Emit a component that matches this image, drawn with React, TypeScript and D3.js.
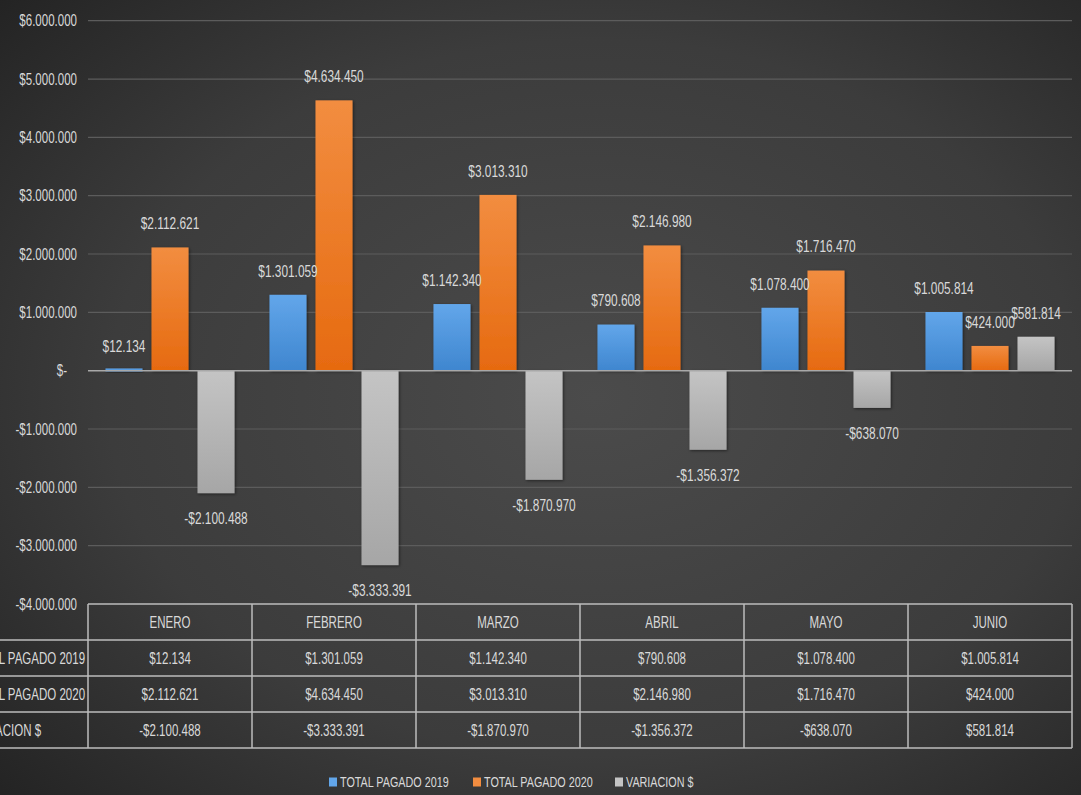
import * as d3 from 'd3';

const months = ['ENERO', 'FEBRERO', 'MARZO', 'ABRIL', 'MAYO', 'JUNIO'];
const seriesNames = ['TOTAL PAGADO 2019', 'TOTAL PAGADO 2020', 'VARIACION $'];
const pagado2019 = [12134, 1301059, 1142340, 790608, 1078400, 1005814];
const pagado2020 = [2112621, 4634450, 3013310, 2146980, 1716470, 424000];
const variacion = [-2100488, -3333391, -1870970, -1356372, -638070, 581814];
const yTicks = [6e6, 5e6, 4e6, 3e6, 2e6, 1e6, 0, -1e6, -2e6, -3e6, -4e6];

const W = 1081;
const H = 795;
const FONT = "'Liberation Sans', Arial, sans-serif";
const TEXT = '#d9d9d9';
const SX = 0.72; // the source uses a tall, narrow face

const colors = [
  ['#62a6ea', '#3f86cf'],
  ['#f28d40', '#e66a10'],
  ['#c4c4c4', '#a6a6a6'],
];

const money = (v: number) => {
  if (v === 0) return '$-';
  const s = d3.format(',')(Math.abs(v)).replace(/,/g, '.');
  return (v < 0 ? '-$' : '$') + s;
};

// narrow text helper
function T({
  x,
  y,
  anchor = 'middle',
  size = 16,
  children,
}: {
  x: number;
  y: number;
  anchor?: string;
  size?: number;
  children: any;
}) {
  return (
    <text
      transform={`translate(${x},${y}) scale(${SX},1)`}
      dy="0.35em"
      textAnchor={anchor}
      fill={TEXT}
      fontSize={size}
    >
      {children}
    </text>
  );
}

export default function App() {
  const values = [pagado2019, pagado2020, variacion];
  const left = 88;
  const right = 1072;
  const y = d3.scaleLinear().domain([-4e6, 6e6]).range([604, 20.7]);
  const x0 = d3.scaleBand<string>().domain(months).range([left, right]);
  const x1 = d3
    .scaleBand<string>()
    .domain(seriesNames)
    .range([0, x0.bandwidth()])
    .paddingInner(0.196)
    .paddingOuter(0.38);

  const tableTop = y(-4e6);
  const rowH = 36;
  const rows = [months.map((m) => m), ...values.map((vs) => vs.map(money))];

  return (
    <svg
      width={W}
      height={H}
      style={{ position: 'absolute', left: 0, top: 0, fontFamily: FONT }}
    >
      <defs>
        <radialGradient id="bg" cx="0.55" cy="0.5" r="0.75">
          <stop offset="0" stopColor="#4b4b4b" />
          <stop offset="0.6" stopColor="#3c3c3c" />
          <stop offset="1" stopColor="#232323" />
        </radialGradient>
        {colors.map((c, i) => (
          <linearGradient key={i} id={`g${i}`} x1="0" y1="0" x2="0" y2="1">
            <stop offset="0" stopColor={c[0]} />
            <stop offset="1" stopColor={c[1]} />
          </linearGradient>
        ))}
        <filter id="sh" x="-20%" y="-20%" width="140%" height="140%">
          <feDropShadow dx="1" dy="1" stdDeviation="1.5" floodColor="#000" floodOpacity="0.5" />
        </filter>
      </defs>
      <rect width={W} height={H} fill="url(#bg)" />

      {/* grid + y labels */}
      {yTicks.map((t) => (
        <g key={t}>
          {t !== 0 && t !== -4e6 && (
            <line x1={left} x2={right} y1={y(t)} y2={y(t)} stroke="#5c5c5c" strokeWidth={1.2} />
          )}
          <T x={t === 0 ? 67 : 77} y={y(t)} anchor="end">
            {money(t)}
          </T>
        </g>
      ))}

      {/* bars */}
      {values.map((vs, si) =>
        vs.map((v, mi) => {
          const bx = (x0(months[mi]) ?? 0) + (x1(seriesNames[si]) ?? 0);
          const top = Math.min(y(v), y(0));
          const h = Math.abs(y(v) - y(0));
          return (
            <rect
              key={`${si}-${mi}`}
              x={bx}
              y={top - (h < 3 ? 1.5 : 0)}
              width={x1.bandwidth()}
              height={Math.max(h, 3)}
              fill={`url(#g${si})`}
              filter="url(#sh)"
            />
          );
        })
      )}
      <line x1={left} x2={right} y1={y(0)} y2={y(0)} stroke="#a8a8a8" strokeWidth={1.5} />

      {/* data labels */}
      {values.map((vs, si) =>
        vs.map((v, mi) => {
          const cx = (x0(months[mi]) ?? 0) + (x1(seriesNames[si]) ?? 0) + x1.bandwidth() / 2;
          const ly = v >= 0 ? y(v) - 24 : y(v) + 25;
          return (
            <T key={`l${si}-${mi}`} x={cx} y={ly} size={16.5}>
              {money(v)}
            </T>
          );
        })
      )}

      {/* data table */}
      <line x1={left} x2={right} y1={tableTop} y2={tableTop} stroke="#bdbdbd" strokeWidth={1.5} />
      {[1, 2, 3, 4].map((r) => (
        <line
          key={r}
          x1={0}
          x2={right}
          y1={tableTop + r * rowH}
          y2={tableTop + r * rowH}
          stroke="#bdbdbd"
          strokeWidth={1.5}
        />
      ))}
      {d3.range(months.length + 1).map((i) => {
        const xx = i < months.length ? x0(months[i]) ?? 0 : right;
        return (
          <line
            key={i}
            x1={xx}
            x2={xx}
            y1={tableTop}
            y2={tableTop + 4 * rowH}
            stroke="#bdbdbd"
            strokeWidth={1.5}
          />
        );
      })}
      {rows.map((row, r) =>
        row.map((cell, c) => (
          <T
            key={`t${r}-${c}`}
            x={(x0(months[c]) ?? 0) + x0.bandwidth() / 2}
            y={tableTop + r * rowH + rowH / 2}
          >
            {cell}
          </T>
        ))
      )}
      {/* row headers start left of the canvas, as in the source */}
      {seriesNames.map((s, i) => (
        <T key={s} x={-31} y={tableTop + (i + 1) * rowH + rowH / 2} anchor="start">
          {s}
        </T>
      ))}

      {/* legend */}
      {seriesNames.map((s, i) => {
        const lx = [329, 473, 615][i];
        return (
          <g key={s} transform={`translate(${lx},782)`}>
            <rect x={0} y={-4.5} width={8} height={9} fill={colors[i][0]} />
            <T x={11} y={0} anchor="start" size={15}>
              {s}
            </T>
          </g>
        );
      })}
    </svg>
  );
}
